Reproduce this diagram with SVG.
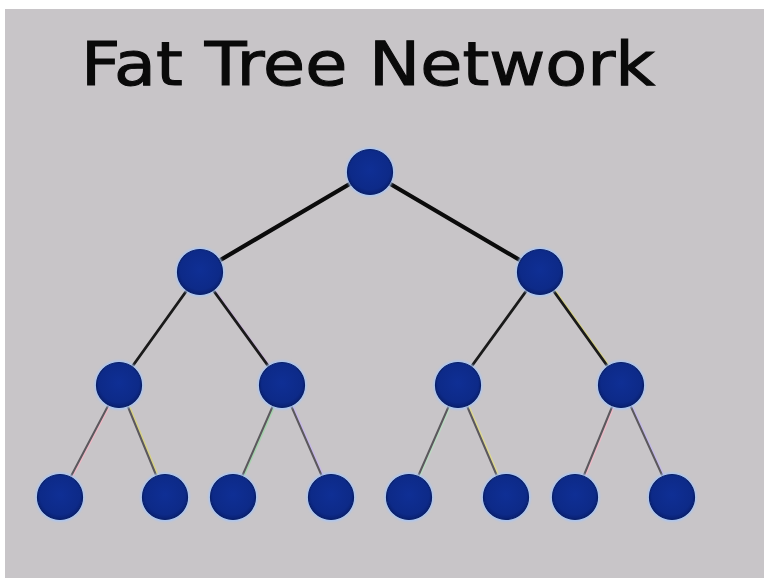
<svg xmlns="http://www.w3.org/2000/svg" width="764" height="579" viewBox="0 0 764 579">
  <defs>
    <style>
      .title { font-family: "DejaVu Sans", "Liberation Sans", sans-serif; font-size: 61px; fill: #0a0a0a; stroke: #0a0a0a; stroke-width: 1.1; }
      .node-halo { fill: #a9c6f5; filter: url(#soft); }
      .node-core { fill: url(#nodeFill); stroke: #0a1f66; stroke-width: 1.2; }
      .e-top { stroke: #0b0b0b; stroke-width: 4.2; stroke-linecap: round; }
      .e-mid { stroke: #1a1a1a; stroke-width: 2.8; stroke-linecap: round; }
      .e-low { stroke: #5b585d; stroke-width: 2; stroke-linecap: round; }
      .fringe { stroke-width: 2.2; stroke-linecap: round; opacity: 0.85; }
    </style>
    <radialGradient id="nodeFill" cx="50%" cy="45%" r="55%">
      <stop offset="0" stop-color="#0f2f95"/>
      <stop offset="0.8" stop-color="#0d2a88"/>
      <stop offset="1" stop-color="#0a2070"/>
    </radialGradient>
    <filter id="soft" x="-30%" y="-30%" width="160%" height="160%">
      <feGaussianBlur stdDeviation="1.3"/>
    </filter>
  </defs>

  <!-- slide backdrop -->
  <rect x="0" y="0" width="764" height="579" fill="#ffffff"/>
  <rect x="5" y="9" width="759" height="569" fill="#c8c5c8"/>

  <text class="title" x="81" y="85" textLength="574" lengthAdjust="spacingAndGlyphs">Fat Tree Network</text>

  <g id="connectors">
    <!-- root to level 2 -->
    <line class="e-top" x1="370" y1="172" x2="200" y2="272"/>
    <line class="e-top" x1="370" y1="172" x2="540" y2="272"/>
    <!-- level 2 to level 3 -->
    <line class="fringe" stroke="#c9b3d8" x1="201.5" y1="272" x2="283.5" y2="385"/>
    <line class="fringe" stroke="#d8d27a" x1="541.5" y1="272" x2="622.5" y2="385"/>
    <line class="e-mid" x1="200" y1="272" x2="119" y2="385"/>
    <line class="e-mid" x1="200" y1="272" x2="282" y2="385"/>
    <line class="e-mid" x1="540" y1="272" x2="458" y2="385"/>
    <line class="e-mid" x1="540" y1="272" x2="621" y2="385"/>
    <!-- level 3 to leaves -->
    <line class="fringe" stroke="#f0b6c4" x1="120.5" y1="385" x2="61.5" y2="497"/>
    <line class="fringe" stroke="#d9d37c" x1="120.5" y1="385" x2="166.5" y2="497"/>
    <line class="fringe" stroke="#9fd4a8" x1="283.5" y1="385" x2="234.5" y2="497"/>
    <line class="fringe" stroke="#c6b6ea" x1="283.5" y1="385" x2="332.5" y2="497"/>
    <line class="fringe" stroke="#b8dcc0" x1="459.5" y1="385" x2="410.5" y2="497"/>
    <line class="fringe" stroke="#e0da88" x1="459.5" y1="385" x2="507.5" y2="497"/>
    <line class="fringe" stroke="#f0b9c6" x1="622.5" y1="385" x2="576.5" y2="497"/>
    <line class="fringe" stroke="#c3b8ea" x1="622.5" y1="385" x2="673.5" y2="497"/>
    <line class="e-low" x1="119" y1="385" x2="60" y2="497"/>
    <line class="e-low" x1="119" y1="385" x2="165" y2="497"/>
    <line class="e-low" x1="282" y1="385" x2="233" y2="497"/>
    <line class="e-low" x1="282" y1="385" x2="331" y2="497"/>
    <line class="e-low" x1="458" y1="385" x2="409" y2="497"/>
    <line class="e-low" x1="458" y1="385" x2="506" y2="497"/>
    <line class="e-low" x1="621" y1="385" x2="575" y2="497"/>
    <line class="e-low" x1="621" y1="385" x2="672" y2="497"/>
  </g>

  <g id="root"><circle class="node-halo" cx="370" cy="172" r="24.5"/><circle class="node-core" cx="370" cy="172" r="22.5"/></g>

  <g id="l2a"><circle class="node-halo" cx="200" cy="272" r="24.5"/><circle class="node-core" cx="200" cy="272" r="22.5"/></g>
  <g id="l2b"><circle class="node-halo" cx="540" cy="272" r="24.5"/><circle class="node-core" cx="540" cy="272" r="22.5"/></g>

  <g id="l3a"><circle class="node-halo" cx="119" cy="385" r="24.5"/><circle class="node-core" cx="119" cy="385" r="22.5"/></g>
  <g id="l3b"><circle class="node-halo" cx="282" cy="385" r="24.5"/><circle class="node-core" cx="282" cy="385" r="22.5"/></g>
  <g id="l3c"><circle class="node-halo" cx="458" cy="385" r="24.5"/><circle class="node-core" cx="458" cy="385" r="22.5"/></g>
  <g id="l3d"><circle class="node-halo" cx="621" cy="385" r="24.5"/><circle class="node-core" cx="621" cy="385" r="22.5"/></g>

  <g id="leaf1"><circle class="node-halo" cx="60" cy="497" r="24.5"/><circle class="node-core" cx="60" cy="497" r="22.5"/></g>
  <g id="leaf2"><circle class="node-halo" cx="165" cy="497" r="24.5"/><circle class="node-core" cx="165" cy="497" r="22.5"/></g>
  <g id="leaf3"><circle class="node-halo" cx="233" cy="497" r="24.5"/><circle class="node-core" cx="233" cy="497" r="22.5"/></g>
  <g id="leaf4"><circle class="node-halo" cx="331" cy="497" r="24.5"/><circle class="node-core" cx="331" cy="497" r="22.5"/></g>
  <g id="leaf5"><circle class="node-halo" cx="409" cy="497" r="24.5"/><circle class="node-core" cx="409" cy="497" r="22.5"/></g>
  <g id="leaf6"><circle class="node-halo" cx="506" cy="497" r="24.5"/><circle class="node-core" cx="506" cy="497" r="22.5"/></g>
  <g id="leaf7"><circle class="node-halo" cx="575" cy="497" r="24.5"/><circle class="node-core" cx="575" cy="497" r="22.5"/></g>
  <g id="leaf8"><circle class="node-halo" cx="672" cy="497" r="24.5"/><circle class="node-core" cx="672" cy="497" r="22.5"/></g>
</svg>
